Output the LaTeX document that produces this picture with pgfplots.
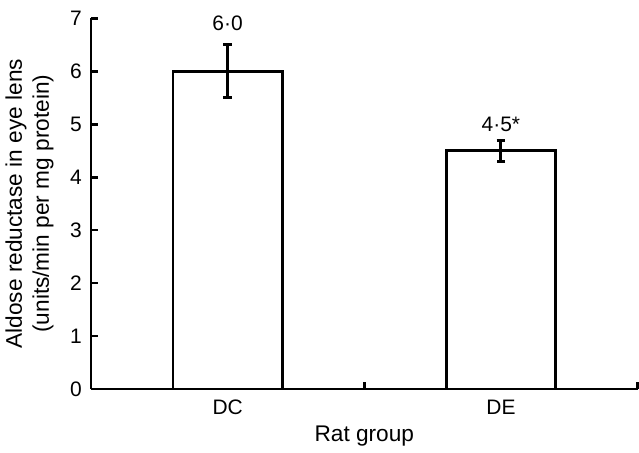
\documentclass[border=0pt]{standalone}
\usepackage{fontspec}
\setmainfont{Liberation Sans}
\usepackage{pgfplots}
\pgfplotsset{compat=1.18}
\begin{document}
\begin{tikzpicture}
\begin{axis}[
  scale only axis, width=326pt, height=221pt,
  xmin=0.5, xmax=2.5, ymin=0, ymax=7,
  axis lines*=left,
  axis line style={line width=1.7pt},
  ytick={0,1,...,7},
  xtick={1,2}, xticklabels={DC,DE},
  minor xtick={1.5,2.5},
  major x tick style={draw=none},
  tick style={line width=1.5pt, black},
  tick align=inside,
  major tick length=4pt, minor tick length=4pt,
  font=\fontsize{12.5}{16}\selectfont,
  /pgf/number format/assume math mode=true,
  yticklabel style={xshift=-2pt},
  xticklabel style={yshift=-3pt},
  ylabel={Aldose reductase in eye lens\\(units/min per mg protein)},
  ylabel style={align=center, font=\fontsize{13.5}{16}\selectfont, yshift=3pt},
  xlabel={Rat group},
  xlabel style={font=\fontsize{13.5}{15}\selectfont, yshift=0pt},
  clip=false]
\addplot[ybar, bar width=0.4, fill=white, draw=black, line width=1.6pt,
  error bars/.cd, y dir=both, y explicit,
  error bar style={line width=1.8pt},
  error mark options={rotate=90, mark size=2.5pt, line width=1.8pt}]
  coordinates {(1,6.0) +- (0,0.5) (2,4.5) +- (0,0.2)};
\node at (axis cs:1,6.9) {6·0};
\node at (axis cs:2,5.0) {4·5*};
\coordinate (top) at (rel axis cs:0,1);
\end{axis}
\path (top) ++(0,11pt);
\end{tikzpicture}
\end{document}
